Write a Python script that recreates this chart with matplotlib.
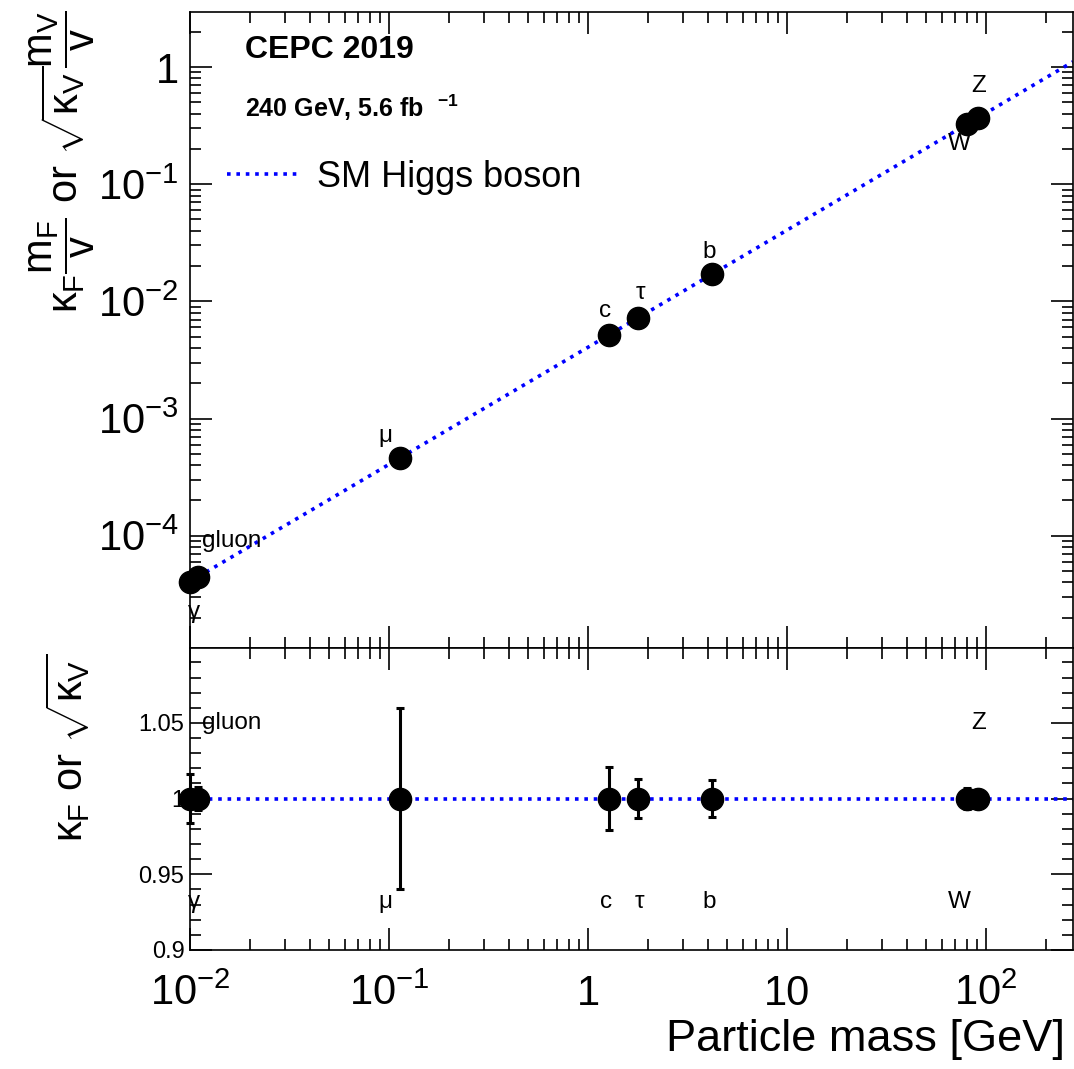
import numpy as np
import matplotlib
matplotlib.use("Agg")
import matplotlib.pyplot as plt
from matplotlib.ticker import LogLocator, FixedLocator, MultipleLocator, NullFormatter, FuncFormatter

plt.rcParams['font.family'] = ['Liberation Sans', 'DejaVu Sans']
plt.rcParams['mathtext.fontset'] = 'custom'
plt.rcParams['mathtext.rm'] = 'Liberation Sans'
plt.rcParams['mathtext.it'] = 'Liberation Sans'
plt.rcParams['mathtext.bf'] = 'Liberation Sans:bold'

# ---- data ----
particles = ['γ', 'gluon', 'μ', 'c', 'τ', 'b', 'W', 'Z']
mass = [0.0100, 0.0110, 0.113, 1.28, 1.777, 4.18, 80.4, 91.19]
kappa = [1.0, 1.0, 1.0, 1.0, 1.0, 1.0, 1.0, 1.0]
kappa_err = [0.016, 0.0076, 0.060, 0.021, 0.013, 0.012, 0.007, 0.005]
is_vector = [False, False, False, False, False, False, True, True]
vev = 246.22
x_range = [0.0100, 273.0]

mass = np.array(mass)
kappa = np.array(kappa)
kappa_err = np.array(kappa_err)
is_vector = np.array(is_vector)
yval = np.where(is_vector, np.sqrt(kappa), kappa) * mass / vev
line_x = np.array(x_range)
line_y = line_x / vev

W, H = 1074, 1069
fig = plt.figure(figsize=(W / 100, H / 100), dpi=100)
L = 190 / W
R = 1073 / W
ax1 = fig.add_axes([L, 1 - 648 / H, R - L, (648 - 12) / H])
ax2 = fig.add_axes([L, 1 - 950 / H, R - L, (950 - 648) / H])

dot = (0, (1, 1.6))
for ax in (ax1, ax2):
    ax.set_xscale('log')
    ax.set_xlim(*x_range)
    ax.xaxis.set_major_locator(LogLocator(base=10, numticks=20))
    ax.xaxis.set_minor_locator(LogLocator(base=10, subs=np.arange(2, 10), numticks=20))
    ax.tick_params(which='both', direction='in', top=True, right=True, width=1.2)
    ax.tick_params(which='major', length=16)
    ax.tick_params(which='minor', length=8)
    for s in ax.spines.values():
        s.set_linewidth(1.2)

# top panel
ax1.set_yscale('log')
ax1.set_ylim(1.1e-5, 2.95)
ax1.yaxis.set_major_locator(LogLocator(base=10, numticks=20))
ax1.yaxis.set_minor_locator(LogLocator(base=10, subs=np.arange(2, 10), numticks=20))


def logfmt(v, pos):
    e = int(round(np.log10(v)))
    if e == 0:
        return '1'
    if e == 1:
        return '10'
    return r'$10^{%d}$' % e if e > 0 else r'$10^{-%d}$' % (-e)


ax1.yaxis.set_major_formatter(FuncFormatter(logfmt))
ax1.yaxis.set_minor_formatter(NullFormatter())
ax1.xaxis.set_major_formatter(NullFormatter())
ax1.xaxis.set_minor_formatter(NullFormatter())
ax1.tick_params(axis='y', labelsize=30, pad=8)

ax1.plot(line_x, line_y, color='#0000ff', lw=2.6, ls=dot, zorder=2,
         label='SM Higgs boson')
ax1.plot(mass, yval, 'o', color='black', ms=16, zorder=3, clip_on=False)

lab_kw = dict(fontsize=17.5, color='black')
top_offsets = {
    'γ': (-2, -30, 'left'), 'gluon': (4, 36, 'left'), 'μ': (-14, 22, 'center'),
    'c': (-4, 24, 'center'), 'τ': (3, 25, 'center'), 'b': (-3, 22, 'center'),
    'W': (-8, -20, 'center'), 'Z': (0, 32, 'center'),
}
for p, xm, yv in zip(particles, mass, yval):
    dx, dy, ha = top_offsets[p]
    ax1.annotate(p, (xm, yv), xytext=(dx * 0.72, dy * 0.72), textcoords='offset points',
                 ha=ha, va='center', **lab_kw)

ax1.text(245 / W, 1 - 50 / H, 'CEPC 2019', transform=fig.transFigure, fontsize=23,
         fontweight='bold', va='center', ha='left')
ax1.text(245 / W, 1 - 108 / H, r'240 GeV, 5.6 fb  $^{\mathbf{-1}}$', transform=fig.transFigure,
         fontsize=18, fontweight='bold', va='center', ha='left')
leg = ax1.legend(loc='upper left', bbox_to_anchor=(227 / W, 1 - 160 / H),
                 bbox_transform=fig.transFigure, frameon=False, fontsize=26,
                 handlelength=1.95, handletextpad=0.55, borderaxespad=0, borderpad=0)

fig.text(62 / W, 1 - 162 / H,
         r'$\kappa_F\dfrac{m_F}{v}$ or $\sqrt{\kappa_V}\dfrac{m_V}{v}$',
         rotation=90, fontsize=30, ha='center', va='center')

# bottom panel
ax2.set_ylim(0.9, 1.0995)
ax2.yaxis.set_major_locator(FixedLocator([0.9, 0.95, 1.0, 1.05]))
ax2.yaxis.set_minor_locator(MultipleLocator(0.01))
ax2.yaxis.set_major_formatter(FuncFormatter(lambda v, p: '%g' % v))
ax2.tick_params(axis='y', labelsize=17, pad=4)
ax2.tick_params(axis='x', labelsize=30, pad=17)
ax2.xaxis.set_major_formatter(FuncFormatter(logfmt))
ax2.xaxis.set_minor_formatter(NullFormatter())

ax2.axhline(1.0, color='#0000ff', lw=2.6, ls=dot, zorder=2)
ax2.errorbar(mass, kappa, yerr=kappa_err, fmt='o', color='black', ms=16,
             elinewidth=2.2, capsize=3, capthick=2.2, zorder=3, clip_on=False)

bot_pos = {'γ': 0.932, 'μ': 0.932, 'c': 0.932, 'τ': 0.932, 'b': 0.932, 'W': 0.932,
           'gluon': 1.05, 'Z': 1.05}
bot_dx = {'γ': (-2, 'left'), 'gluon': (4, 'left'), 'μ': (-14, 'center'), 'c': (-3, 'center'),
          'τ': (2, 'center'), 'b': (-3, 'center'), 'W': (-8, 'center'), 'Z': (0, 'center')}
for p, xm in zip(particles, mass):
    dx, ha = bot_dx[p]
    ax2.annotate(p, (xm, bot_pos[p]), xytext=(dx * 0.72, 0), textcoords='offset points',
                 ha=ha, va='center', **lab_kw)

fig.text(68 / W, 1 - 748 / H, r'$\kappa_F$ or $\sqrt{\kappa_V}$', rotation=90,
         fontsize=30, ha='center', va='center')

fig.text(1065 / W, 1 - 1040 / H, 'Particle mass [GeV]', fontsize=32.5, ha='right',
         va='center')

fig.savefig('out.png', dpi=100)
